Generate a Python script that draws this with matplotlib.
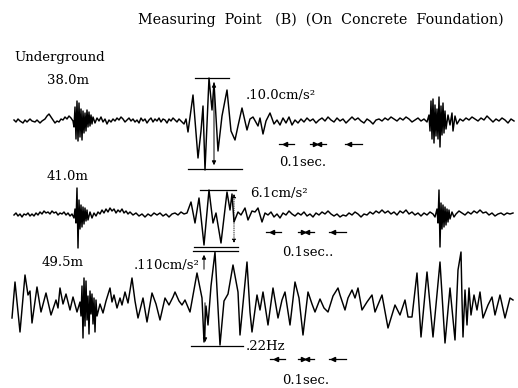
import matplotlib
matplotlib.use('Agg')
import matplotlib.pyplot as plt

# seismograph traces: (time position, amplitude)
# time in record units along the strip, amplitude positive upward
trace_38 = [
    (14, 1), (16, -1), (18, 2), (20, 0), (23, -2), (25, 1), (27, -1), (30, 2), (32, 0), (35, -1),
    (37, 1), (40, -2), (42, 0), (45, 2), (47, 5), (49, 7), (51, 4), (53, 1), (55, -2), (57, 0),
    (59, -1), (61, 2), (63, 1), (65, 4), (67, 2), (69, 5), (71, 3), (73, 0),
    (74, -6), (75, 14), (76, -18), (77, 20), (78, -20), (79, 18), (80, -16), (81, 12), (82, -19),
    (83, 10), (84, -12), (85, 8), (86, -10), (87, 11), (88, -6), (89, 9), (90, -5), (91, 6),
    (92, -3), (93, 4), (95, -2), (97, 3), (99, 0), (101, 4), (103, -1), (105, 2), (107, -3),
    (109, 1), (111, -1), (113, 2), (115, 0), (117, 3), (119, 1), (121, 4), (123, 2), (125, -1),
    (127, 1), (129, 3), (131, 0), (133, 2), (135, -1), (137, 1), (139, -2), (141, 3), (143, 0),
    (145, 2), (147, -2), (149, 1), (151, 3), (153, -1), (155, 2), (157, 0), (159, 3), (161, -1),
    (163, 2), (165, 1), (167, -2), (169, 2), (171, 0), (173, 3), (175, 1), (177, -1), (179, 2),
    (181, 0), (184, -3), (186, 2), (188, -11),
    (193, 26), (198, -37), (201, -10), (203, 15), (205, -49), (209, 43), (212, 11), (214, 38),
    (218, -30), (222, 5), (227, 31), (231, -10), (235, -19), (238, -5), (242, 13), (247, -9),
    (250, 2), (253, 4), (258, -5), (260, 3), (263, -13), (266, 0), (270, 8), (274, -3), (277, 1),
    (280, -4), (283, 3), (286, -2), (289, 4), (292, -4), (295, 1), (298, -2), (301, 2), (304, -1),
    (307, 3), (310, 0), (313, 2), (316, -2), (319, 1), (322, 3), (325, 0), (328, 4), (331, 1),
    (334, -1), (337, 3), (340, 0), (343, 2), (346, -2), (349, 1), (352, 4), (355, 1), (358, 3),
    (361, 0), (364, -2), (367, 2), (370, 0), (373, -3), (376, 1), (379, 2), (382, 0), (385, 3),
    (388, 1), (391, 4), (394, 2), (397, 0), (400, 3), (403, 1), (406, 4), (409, 2), (412, -1),
    (415, 1), (418, 3), (421, 0), (424, 2), (427, -1),
    (429, 6), (430, -10), (431, 20), (432, -18), (433, 22), (434, -22), (435, 16), (436, -15),
    (437, 12), (438, -18), (439, 24), (440, -26), (441, 15), (442, -14), (443, 18), (444, -12),
    (445, 10), (446, -8), (448, 6), (450, -4), (452, 8), (453, -10), (455, 5), (457, -3),
    (460, 2), (463, 0), (466, 3), (469, 1), (472, 4), (475, 2), (478, 0), (481, 3), (484, 1),
    (487, 5), (490, 2), (493, -1), (496, 2), (499, 0), (502, 3), (505, 1), (508, -2), (511, 2),
    (514, 0),
]

trace_41 = [
    (14, 0), (16, 2), (18, -1), (20, 1), (22, -2), (24, 1), (26, 0), (28, 2), (30, -1), (32, 1),
    (34, -1), (36, 2), (38, 0), (40, 3), (42, 1), (44, 4), (46, 2), (48, 3), (50, 1), (52, 4),
    (54, 2), (56, 3), (58, 0), (60, 2), (62, 1), (64, 3), (66, 0), (68, 2), (70, -1), (72, 1),
    (74, -3), (75, 6), (76, -8), (77, 27), (78, -33), (79, 15), (80, -14), (81, 10), (82, -12),
    (83, 8), (84, -9), (85, 7), (86, -6), (87, 5), (88, -5), (90, 3), (92, -3), (94, 2), (96, -1),
    (98, 3), (100, 1), (102, 5), (104, 2), (106, 6), (108, 3), (110, 7), (112, 4), (114, 6),
    (116, 2), (118, 5), (120, 3), (122, 6), (124, 2), (126, 4), (128, 1), (130, 3), (133, 0),
    (136, 2), (139, -1), (142, 1), (145, -2), (148, 1), (151, -1), (154, 2), (157, 0), (160, 2),
    (163, -1), (166, 1), (169, -2), (172, 1), (175, 2), (178, 0), (181, 3), (184, 1), (187, 2),
    (191, 13), (195, -8), (199, 17), (204, -30), (209, 25), (213, -8), (216, 2), (221, -28),
    (227, 23), (230, 5), (232, 21), (234, -7), (238, 3), (241, 0), (245, 7), (248, -5), (252, 4),
    (255, 3), (258, 7), (262, -7), (265, 2), (268, 0), (271, 3), (274, -2), (277, 1), (280, -3),
    (283, 2), (286, 0), (289, 4), (292, 1), (295, -1), (298, 2), (301, 0), (304, 3), (307, -1),
    (310, 1), (313, -2), (316, 2), (319, 0), (322, 3), (325, 1), (328, 4), (331, 1), (334, -1),
    (337, 1), (340, -2), (343, 0), (346, -1), (349, 2), (352, 0), (355, 3), (358, 1), (361, -2),
    (364, 1), (367, 0), (370, 3), (373, 1), (376, 4), (379, 2), (382, 5), (385, 2), (388, 4),
    (391, 1), (394, 3), (397, 0), (400, 4), (403, 2), (406, 5), (409, 1), (412, 3), (415, 0),
    (418, 2), (421, -1), (424, 2), (427, 0), (430, 3), (433, 1), (435, -2),
    (437, 6), (438, -8), (439, 25), (440, -32), (441, 12), (442, -14), (443, 10), (444, -12),
    (445, 8), (446, -10), (447, 6), (448, -7), (449, 5), (450, -4), (452, 3), (454, -2),
    (456, 1), (459, 4), (462, 2), (465, 0), (468, 3), (471, 1), (474, 4), (477, 2), (480, 5),
    (483, 2), (486, 3), (489, 0), (492, 2), (495, -1), (498, 1), (501, 2), (504, 0), (507, 2),
    (510, 1), (513, 2),
]

trace_49 = [
    (12, -12), (15, 24), (20, -26), (25, 31), (28, 11), (30, 15), (32, -17), (37, 19), (41, -6),
    (46, 13), (51, -9), (56, 6), (58, -2), (60, 18), (63, 2), (66, 12), (70, -4), (73, 9), (77, -6),
    (80, 4), (81, -10), (82, 20), (83, -32), (84, 28), (85, -20), (86, 25), (87, -14), (88, 10),
    (89, -28), (90, 15), (91, -8), (92, 12), (93, -18), (94, 8), (95, -26), (96, 6), (97, -10),
    (100, 2), (103, -7), (106, 5), (110, 18), (112, 4), (114, 11), (117, -2), (120, 8), (122, 1),
    (125, 14), (128, 3), (132, 28), (135, 5), (138, -12), (143, 8), (147, -16), (152, 13),
    (156, 2), (160, -14), (165, 8), (169, 1), (173, 9), (175, 14), (179, 5), (182, 1), (185, 6),
    (190, -6), (197, 33), (202, 8), (204, -36), (206, 0), (208, -19), (211, 20), (215, 54),
    (220, -39), (224, 5), (228, 12), (233, 41), (238, 14), (240, -29), (247, 44), (250, -6),
    (252, -26), (257, 11), (260, -4), (263, 14), (268, -19), (273, 18), (278, -12), (282, 6),
    (285, 14), (290, -19), (295, 24), (299, 8), (303, -29), (308, 14), (312, 2), (315, -6),
    (320, 7), (324, -2), (328, -6), (333, 10), (338, 18), (340, 11), (345, -4), (348, 8),
    (352, 16), (355, 8), (358, 18), (362, -4), (367, 4), (372, 11), (375, -6), (382, 11),
    (388, -22), (395, 1), (400, -9), (405, 6), (408, -11), (412, -11), (417, 33), (421, -31),
    (427, 34), (433, -31), (440, 44), (445, -37), (450, 18), (455, -34), (458, 36), (461, 54),
    (462, 6), (463, -31), (465, 16), (467, -19), (469, 18), (471, -9), (474, 11), (477, -4),
    (480, 14), (483, -12), (488, 1), (492, 9), (495, -9), (500, 11), (505, -12), (510, 8),
    (513, 6),
]

depth_labels = ['38.0m', '41.0m', '49.5m']
peak_labels = ['.10.0cm/s²', '6.1cm/s²', '.110cm/s²']
time_label = '0.1sec.'

fig = plt.figure(figsize=(5.18, 3.88), dpi=100)
ax = fig.add_axes([0, 0, 1, 1])
ax.set_xlim(0, 518)
ax.set_ylim(388, 0)
ax.axis('off')

font = dict(family='DejaVu Serif', fontsize=9.5, color='black')

baselines = [121, 215, 306]
for trace, base in zip([trace_38, trace_41, trace_49], baselines):
    t = [p[0] for p in trace]
    a = [base - p[1] for p in trace]
    ax.plot(t, a, color='black', lw=1.05)

ax.text(138, 20, 'Measuring  Point   (B)  (On  Concrete  Foundation)', ha='left', va='center',
        family='DejaVu Serif', fontsize=10.3, color='black')
ax.text(14, 57, 'Underground', ha='left', va='center', **font)
ax.text(47, 80, depth_labels[0], ha='left', va='center', **font)
ax.text(47, 177, depth_labels[1], ha='left', va='center', **font)
ax.text(42, 263, depth_labels[2], ha='left', va='center', **font)

ax.text(246, 96, peak_labels[0], ha='left', va='center', **font)
ax.text(250, 193, peak_labels[1], ha='left', va='center', **font)
ax.text(134, 265, peak_labels[2], ha='left', va='center', **font)
ax.text(246, 347, '.22Hz', ha='left', va='center', **font)

ax.text(279, 162, time_label, ha='left', va='center', **font)
ax.text(282, 252, time_label + '.', ha='left', va='center', **font)
ax.text(282, 381, time_label, ha='left', va='center', **font)

# amplitude brackets
line = dict(color='black', lw=0.9)
ax.plot([195, 229], [78, 78], **line)
ax.plot([188, 242], [169, 169], **line)
ax.annotate('', xy=(214, 168), xytext=(214, 80),
            arrowprops=dict(arrowstyle='<|-|>', color='black', lw=0.7, mutation_scale=6))
ax.plot([200, 236], [190, 190], **line)
ax.plot([194, 238], [247, 247], **line)
ax.annotate('', xy=(234, 246), xytext=(234, 191),
            arrowprops=dict(arrowstyle='<|-|>', color='black', lw=0.6, ls=':', mutation_scale=6))
ax.plot([193, 238], [251, 251], **line)
ax.plot([191, 243], [346, 346], **line)
ax.annotate('', xy=(204, 252), xytext=(204, 272),
            arrowprops=dict(arrowstyle='-|>', color='black', lw=0.7, mutation_scale=6))
ax.annotate('', xy=(205, 345), xytext=(205, 300),
            arrowprops=dict(arrowstyle='-|>', color='black', lw=0.7, mutation_scale=6))

# 0.1 sec timing marks
for y, xs in [(144, (279, 310, 345)), (232, (266, 298, 329)), (359, (270, 298, 329))]:
    x1, x2, x3 = xs
    ax.plot([x1, x1 + 15], [y, y], **line)
    ax.plot([x1 + 6], [y], marker='<', color='black', ms=3)
    ax.plot([x2, x2 + 16], [y, y], **line)
    ax.plot([x2 + 5], [y], marker='>', color='black', ms=3)
    ax.plot([x2 + 9], [y], marker='<', color='black', ms=3)
    ax.plot([x3, x3 + 17], [y, y], **line)
    ax.plot([x3 + 4], [y], marker='<', color='black', ms=3)

fig.savefig('out.png', dpi=100)
